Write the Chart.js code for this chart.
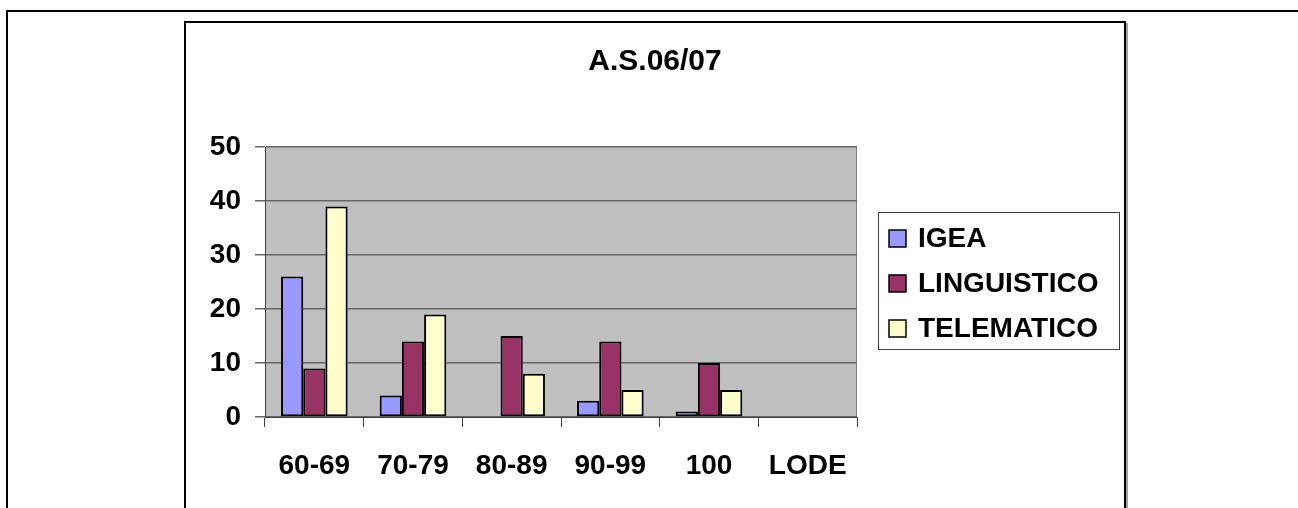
<!DOCTYPE html>
<html lang="it">
<head>
  <meta charset="UTF-8" />
  <title>A.S.06/07</title>
  <style>
    body {
      margin: 0;
      background: white;
      font-family: "Liberation Sans", Arial, sans-serif;
    }
    .outer {
      position: absolute;
      left: 6px;
      top: 10px;
      width: 1300px;
      height: 520px;
      border-top: 2px solid black;
      border-left: 2px solid black;
    }
    .frame {
      position: absolute;
      left: 184px;
      top: 21px;
      width: 938px;
      height: 500px;
      border: 2px solid black;
      background: white;
      box-shadow: 2px 2px 0 #a0a0a0;
    }
    #chart {
      position: absolute;
      left: 0;
      top: 0;
    }
  </style>
</head>
<body>
  <div class="outer"></div>
  <div class="frame">
    <canvas id="chart" width="938" height="485"></canvas>
  </div>

  <script src="https://cdn.jsdelivr.net/npm/chart.js"></script>
  <script>
    const categories = ["60-69", "70-79", "80-89", "90-99", "100", "LODE"];
    const igea = [26, 4, 0, 3, 1, 0];
    const linguistico = [9, 14, 15, 14, 10, 0];
    const telematico = [39, 19, 8, 5, 5, 0];
    const yMin = 0, yMax = 50, yStep = 10;
    const titleText = "A.S.06/07";

    const FONT = "'Liberation Sans', Arial, sans-serif";

    // sfondo grigio dell'area del grafico
    const plotBg = {
      id: "plotBg",
      beforeDraw(chart) {
        const { ctx, chartArea: a } = chart;
        ctx.save();
        ctx.fillStyle = "#c0c0c0";
        ctx.fillRect(a.left, a.top, a.right - a.left, a.bottom - a.top);
        ctx.strokeStyle = "#808080";
        ctx.lineWidth = 1;
        ctx.beginPath();
        ctx.moveTo(a.right - 0.5, a.top);
        ctx.lineTo(a.right - 0.5, a.bottom);
        ctx.stroke();
        ctx.restore();
      }
    };

    // titolo centrato su tutto il riquadro (non solo sull'area del grafico)
    const wideTitle = {
      id: "wideTitle",
      afterDraw(chart) {
        const ctx = chart.ctx;
        ctx.save();
        ctx.font = "bold 30px " + FONT;
        ctx.fillStyle = "black";
        ctx.textAlign = "center";
        ctx.textBaseline = "middle";
        ctx.fillText(titleText, chart.width / 2, 39);
        ctx.restore();
      }
    };

    // legenda con riquadro, come in Excel
    const boxLegend = {
      id: "boxLegend",
      afterDraw(chart) {
        const { ctx, chartArea: a } = chart;
        const left = a.right + 21, top = a.top + 65;
        const w = 241, h = 137;
        ctx.save();
        ctx.strokeStyle = "#404040";
        ctx.lineWidth = 1;
        ctx.strokeRect(left + 0.5, top + 0.5, w, h);
        ctx.font = "bold 28px " + FONT;
        ctx.textBaseline = "middle";
        chart.data.datasets.forEach((ds, i) => {
          const cy = top + 26 + i * 45;
          ctx.fillStyle = ds.backgroundColor;
          ctx.fillRect(left + 11, cy - 8, 17, 17);
          ctx.strokeStyle = "black";
          ctx.lineWidth = 1.5;
          ctx.strokeRect(left + 11, cy - 8, 17, 17);
          ctx.fillStyle = "black";
          ctx.fillText(ds.label, left + 40, cy + 1);
        });
        ctx.restore();
      }
    };

    function makeSet(label, values, color) {
      return {
        label: label,
        data: values,
        backgroundColor: color,
        borderColor: "black",
        borderWidth: c => (c.raw === 0 ? 0 : 2),
        borderSkipped: false,
        categoryPercentage: 0.675,
        barPercentage: 1
      };
    }

    new Chart(document.getElementById("chart"), {
      type: "bar",
      data: {
        labels: categories,
        datasets: [
          makeSet("IGEA", igea, "#9999ff"),
          makeSet("LINGUISTICO", linguistico, "#993366"),
          makeSet("TELEMATICO", telematico, "#ffffcc")
        ]
      },
      options: {
        responsive: false,
        devicePixelRatio: 1,
        animation: false,
        layout: { padding: { left: 0, right: 267, top: 124, bottom: 0 } },
        plugins: {
          legend: { display: false },
          tooltip: { enabled: false },
          title: { display: false }
        },
        scales: {
          x: {
            offset: true,
            afterFit(scale) { scale.height = 91; },
            grid: {
              offset: true,
              drawOnChartArea: false,
              drawTicks: true,
              tickLength: 10,
              tickColor: "#404040"
            },
            border: { color: "#404040", width: 1 },
            ticks: {
              color: "black",
              padding: 22,
              font: { family: FONT, size: 28, weight: "bold" }
            }
          },
          y: {
            min: yMin,
            max: yMax,
            afterFit(scale) { scale.width = 79; },
            grid: {
              color: "#666666",
              tickColor: "#666666",
              tickLength: 10,
              lineWidth: 1.5
            },
            border: { color: "#404040", width: 1 },
            ticks: {
              stepSize: yStep,
              color: "black",
              padding: 14,
              font: { family: FONT, size: 28, weight: "bold" }
            }
          }
        }
      },
      plugins: [plotBg, wideTitle, boxLegend]
    });
  </script>
</body>
</html>
